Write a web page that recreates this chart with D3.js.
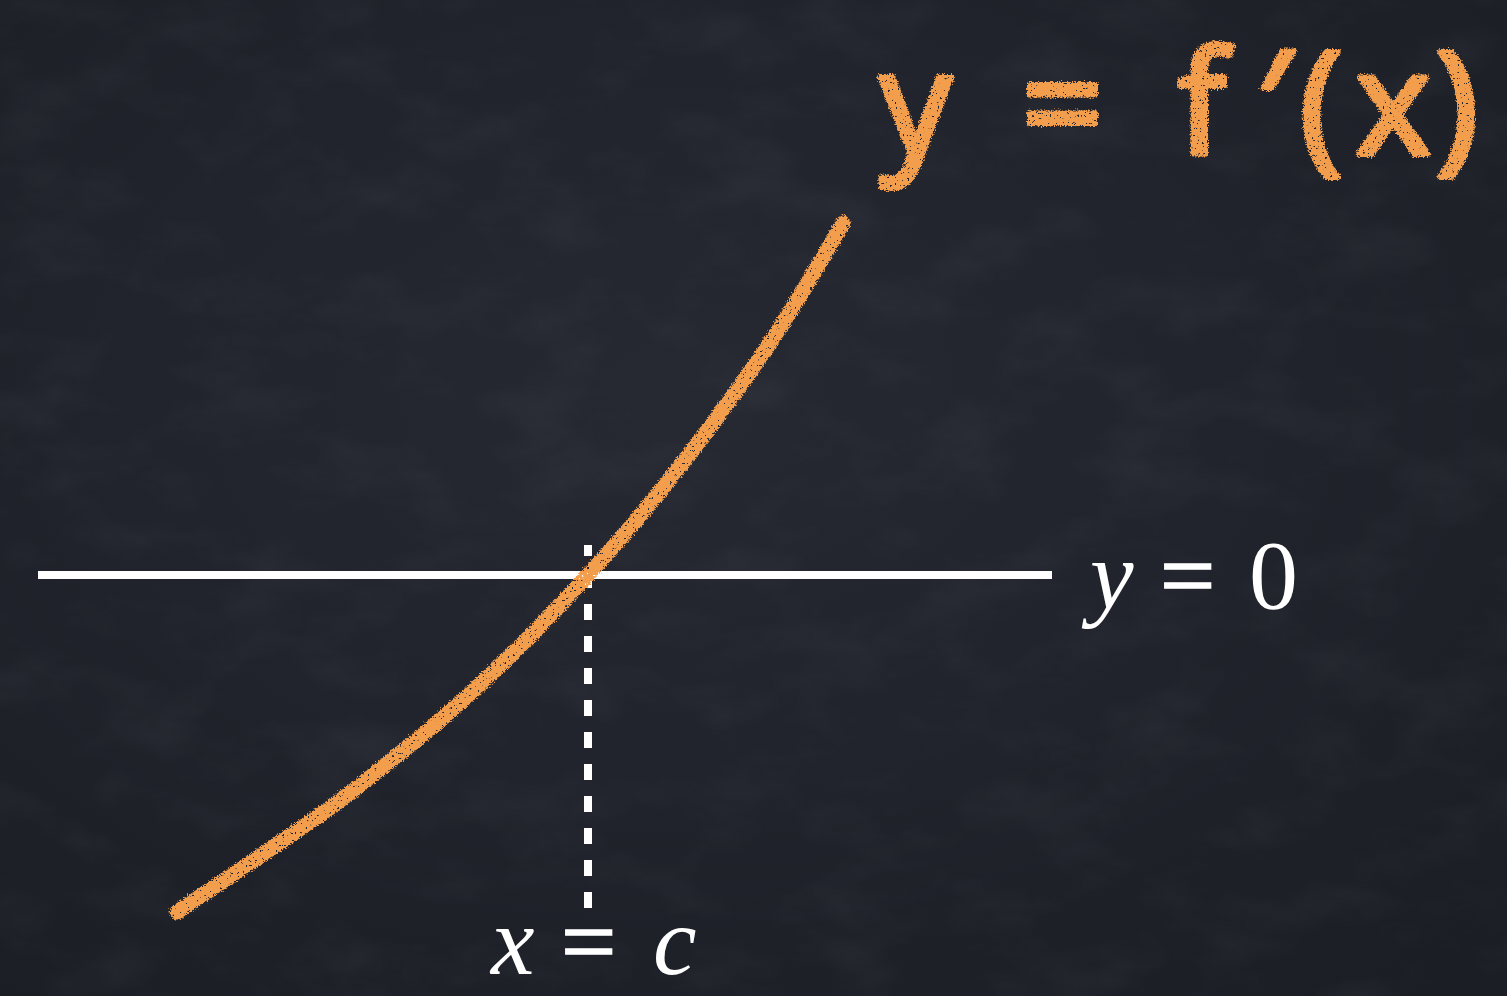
<!DOCTYPE html>
<html>
<head>
<meta charset="utf-8">
<script src="https://cdn.jsdelivr.net/npm/d3@7"></script>
<style>
  html, body { margin: 0; padding: 0; background: #1f222a; overflow: hidden; }
  svg { display: block; }
  .math { font-family: "Liberation Serif", "Times New Roman", Times; }
</style>
</head>
<body>
<div id="board"></div>
<script>
const width = 1507;
const height = 996;

// curve y = f'(x) (c sits at x = 0)
const curveX = [-4.11, -3.5, -3.0, -2.5, -2.0, -1.5, -1.0, -0.5, 0, 0.5, 1.0, 1.5, 2.0, 2.55];
const curveY = [-3.37, -2.96, -2.62, -2.27, -1.88, -1.47, -1.02, -0.53, 0, 0.57, 1.19, 1.86, 2.60, 3.52];

// the y = 0 line and the x = c marker
const axisExtent = [-5.5, 4.64];
const cValue = 0;
const cExtent = [-3.33, 0.30];

const titleText = "y = f\u2032(x)";
const titleGlyphX = [880, 955, 1022, 1115, 1178, 1258, 1300, 1356, 1436];
const zeroLabel = ["y", "=", "0"];
const zeroGlyphX = [1090, 1160, 1249];
const cLabel = ["x", "=", "c"];
const cGlyphX = [491, 561, 653];

const chalk = "#f29e4e";

const x = d3.scaleLinear().domain([-5.5, 4.64]).range([38, 1052]);
const y = d3.scaleLinear().domain([-4.21, 5.75]).range([996, 0]);

const svg = d3.select("#board").append("svg")
  .attr("width", width)
  .attr("height", height);

//////////////// filters ////////////////
const defs = svg.append("defs");

const bg = defs.append("radialGradient").attr("id", "bg")
  .attr("cx", "45%").attr("cy", "40%").attr("r", "75%");
bg.append("stop").attr("offset", "0%").attr("stop-color", "#262932");
bg.append("stop").attr("offset", "100%").attr("stop-color", "#1b1e25");

const smudge = defs.append("filter").attr("id", "smudge")
  .attr("x", 0).attr("y", 0).attr("width", "100%").attr("height", "100%");
smudge.append("feTurbulence").attr("type", "fractalNoise")
  .attr("baseFrequency", "0.01 0.018").attr("numOctaves", 4).attr("seed", 7);
smudge.append("feColorMatrix").attr("type", "matrix")
  .attr("values", "0 0 0 0 0.6  0 0 0 0 0.62  0 0 0 0 0.7  1.4 0 0 0 -0.62");

const chalkFilter = defs.append("filter").attr("id", "chalk")
  .attr("x", "-10%").attr("y", "-10%").attr("width", "120%").attr("height", "120%");
chalkFilter.append("feTurbulence").attr("type", "fractalNoise")
  .attr("baseFrequency", 0.7).attr("numOctaves", 2).attr("seed", 2).attr("result", "noise");
chalkFilter.append("feDisplacementMap").attr("in", "SourceGraphic").attr("in2", "noise")
  .attr("scale", 6).attr("xChannelSelector", "R").attr("yChannelSelector", "G").attr("result", "disp");
chalkFilter.append("feTurbulence").attr("type", "fractalNoise")
  .attr("baseFrequency", 0.4).attr("numOctaves", 2).attr("seed", 5).attr("result", "n2");
chalkFilter.append("feColorMatrix").attr("in", "n2").attr("type", "matrix")
  .attr("values", "0 0 0 0 0  0 0 0 0 0  0 0 0 0 0  -24 0 0 0 17.6").attr("result", "holes");
chalkFilter.append("feComposite").attr("in", "disp").attr("in2", "holes").attr("operator", "in");

//////////////// board ////////////////
svg.append("rect").attr("width", width).attr("height", height).attr("fill", "url(#bg)");
svg.append("rect").attr("width", width).attr("height", height)
  .attr("filter", "url(#smudge)").attr("opacity", 0.07);

//////////////// y = 0 line ////////////////
svg.append("line")
  .attr("x1", x(axisExtent[0])).attr("x2", x(axisExtent[1]))
  .attr("y1", y(0)).attr("y2", y(0))
  .attr("stroke", "#fff").attr("stroke-width", 8);

//////////////// x = c dashed marker ////////////////
svg.append("line")
  .attr("x1", x(cValue)).attr("x2", x(cValue))
  .attr("y1", y(cExtent[0])).attr("y2", y(cExtent[1]))
  .attr("stroke", "#fff").attr("stroke-width", 8)
  .attr("stroke-dasharray", "16,16");

//////////////// the curve ////////////////
const points = curveX.map((d, i) => [d, curveY[i]]);
const line = d3.line()
  .x(d => x(d[0]))
  .y(d => y(d[1]))
  .curve(d3.curveNatural);

svg.append("path")
  .datum(points)
  .attr("d", line)
  .attr("fill", "none")
  .attr("stroke", chalk)
  .attr("stroke-width", 15)
  .attr("stroke-linecap", "round")
  .attr("filter", "url(#chalk)");

//////////////// labels ////////////////
// handwritten title, one x per glyph
svg.append("text")
  .attr("x", titleGlyphX.join(" "))
  .attr("y", 154)
  .style("font-family", "'Open Sans'")
  .attr("font-weight", 400)
  .attr("font-size", 142)
  .attr("fill", chalk)
  .attr("stroke", chalk)
  .attr("stroke-width", 6)
  .attr("stroke-linejoin", "round")
  .attr("stroke-linecap", "round")
  .attr("filter", "url(#chalk)")
  .text(titleText);

function mathLabel(parts, xs, yPos) {
  const t = svg.append("text")
    .attr("class", "math")
    .attr("y", yPos)
    .style("font-size", "98px")
    .attr("fill", "#fff");
  t.append("tspan").attr("x", xs[0]).style("font-style", "italic").text(parts[0]);
  t.append("tspan").attr("x", xs[1])
    .attr("stroke", "#fff").attr("stroke-width", 1.6)
    .text(parts[1]);
  t.append("tspan").attr("x", xs[2])
    .style("font-style", isNaN(+parts[2]) ? "italic" : "normal")
    .text(parts[2]);
}

mathLabel(zeroLabel, zeroGlyphX, 608);
mathLabel(cLabel, cGlyphX, 974);
</script>
</body>
</html>
